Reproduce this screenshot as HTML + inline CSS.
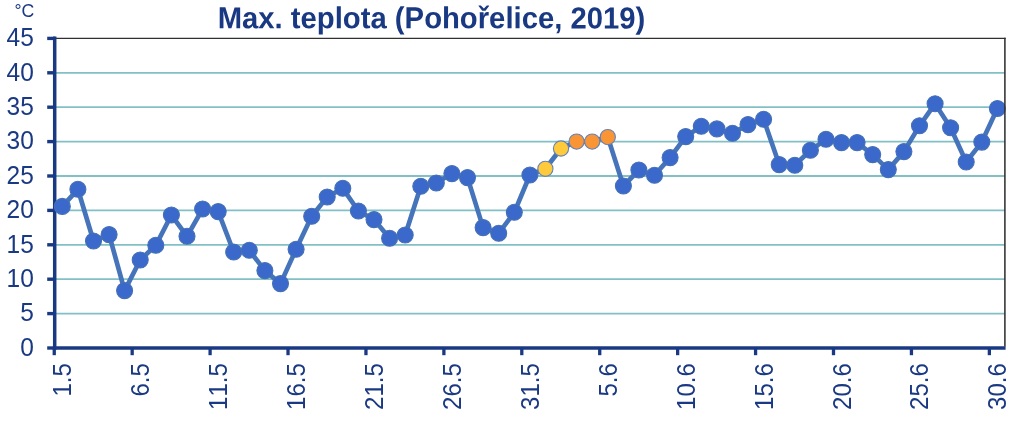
<!DOCTYPE html>
<html lang="cs"><head><meta charset="utf-8"><title>Max. teplota (Pohořelice, 2019)</title>
<style>html,body{margin:0;padding:0;background:#fff;}body{width:1024px;height:422px;overflow:hidden;}svg{display:block;}text{font-kerning:none;font-family:"Liberation Sans",sans-serif;fill:#1a3983;}</style></head><body>
<svg width="1024" height="422" viewBox="0 0 1024 422">
<rect width="1024" height="422" fill="#ffffff"/>
<line x1="56" x2="1005" y1="313.60" y2="313.60" stroke="#82c0c5" stroke-width="1.8"/>
<line x1="56" x2="1005" y1="279.20" y2="279.20" stroke="#82c0c5" stroke-width="1.8"/>
<line x1="56" x2="1005" y1="244.80" y2="244.80" stroke="#82c0c5" stroke-width="1.8"/>
<line x1="56" x2="1005" y1="210.40" y2="210.40" stroke="#82c0c5" stroke-width="1.8"/>
<line x1="56" x2="1005" y1="176.00" y2="176.00" stroke="#82c0c5" stroke-width="1.8"/>
<line x1="56" x2="1005" y1="141.60" y2="141.60" stroke="#82c0c5" stroke-width="1.8"/>
<line x1="56" x2="1005" y1="107.20" y2="107.20" stroke="#82c0c5" stroke-width="1.8"/>
<line x1="56" x2="1005" y1="72.80" y2="72.80" stroke="#82c0c5" stroke-width="1.8"/>
<line x1="54" x2="1005.7" y1="38.3" y2="38.3" stroke="#303030" stroke-width="1.35"/>
<line x1="47.2" x2="55" y1="348.00" y2="348.00" stroke="#1a3983" stroke-width="3.4"/>
<line x1="47.2" x2="55" y1="313.60" y2="313.60" stroke="#1a3983" stroke-width="3.4"/>
<line x1="47.2" x2="55" y1="279.20" y2="279.20" stroke="#1a3983" stroke-width="3.4"/>
<line x1="47.2" x2="55" y1="244.80" y2="244.80" stroke="#1a3983" stroke-width="3.4"/>
<line x1="47.2" x2="55" y1="210.40" y2="210.40" stroke="#1a3983" stroke-width="3.4"/>
<line x1="47.2" x2="55" y1="176.00" y2="176.00" stroke="#1a3983" stroke-width="3.4"/>
<line x1="47.2" x2="55" y1="141.60" y2="141.60" stroke="#1a3983" stroke-width="3.4"/>
<line x1="47.2" x2="55" y1="107.20" y2="107.20" stroke="#1a3983" stroke-width="3.4"/>
<line x1="47.2" x2="55" y1="72.80" y2="72.80" stroke="#1a3983" stroke-width="3.4"/>
<line x1="47.2" x2="55" y1="38.40" y2="38.40" stroke="#1a3983" stroke-width="3.4"/>
<line x1="54.25" x2="54.25" y1="348" y2="355.2" stroke="#1a3983" stroke-width="3.3"/>
<line x1="132.18" x2="132.18" y1="348" y2="355.2" stroke="#1a3983" stroke-width="3.3"/>
<line x1="210.10" x2="210.10" y1="348" y2="355.2" stroke="#1a3983" stroke-width="3.3"/>
<line x1="288.02" x2="288.02" y1="348" y2="355.2" stroke="#1a3983" stroke-width="3.3"/>
<line x1="365.95" x2="365.95" y1="348" y2="355.2" stroke="#1a3983" stroke-width="3.3"/>
<line x1="443.88" x2="443.88" y1="348" y2="355.2" stroke="#1a3983" stroke-width="3.3"/>
<line x1="521.80" x2="521.80" y1="348" y2="355.2" stroke="#1a3983" stroke-width="3.3"/>
<line x1="599.73" x2="599.73" y1="348" y2="355.2" stroke="#1a3983" stroke-width="3.3"/>
<line x1="677.65" x2="677.65" y1="348" y2="355.2" stroke="#1a3983" stroke-width="3.3"/>
<line x1="755.58" x2="755.58" y1="348" y2="355.2" stroke="#1a3983" stroke-width="3.3"/>
<line x1="833.50" x2="833.50" y1="348" y2="355.2" stroke="#1a3983" stroke-width="3.3"/>
<line x1="911.43" x2="911.43" y1="348" y2="355.2" stroke="#1a3983" stroke-width="3.3"/>
<line x1="989.35" x2="989.35" y1="348" y2="355.2" stroke="#1a3983" stroke-width="3.3"/>
<line x1="54.7" x2="54.7" y1="36.4" y2="349.7" stroke="#1a3983" stroke-width="3.5"/>
<line x1="52.9" x2="1005.6" y1="348" y2="348" stroke="#1a3983" stroke-width="3.6"/>
<clipPath id="pc"><rect x="40" y="30" width="965.8" height="330"/></clipPath><g clip-path="url(#pc)">
<polyline points="62.3,206.4 77.9,189.3 93.5,241.0 109.1,234.6 124.6,290.6 140.2,260.0 155.8,245.3 171.4,215.0 187.0,236.3 202.6,209.0 218.2,211.6 233.7,252.0 249.3,250.3 264.9,270.6 280.5,283.6 296.1,249.3 311.7,216.3 327.2,197.0 342.8,188.3 358.4,211.0 374.0,219.6 389.6,238.3 405.2,235.0 420.8,186.3 436.3,183.0 451.9,173.6 467.5,177.6 483.1,227.6 498.7,233.3 514.3,212.3 529.9,175.0 545.4,168.8 561.0,148.5 576.6,141.6 592.2,141.6 607.8,137.1 623.4,186.0 638.9,170.0 654.5,175.3 670.1,157.6 685.7,136.6 701.3,126.3 716.9,128.9 732.5,133.3 748.0,124.6 763.6,119.3 779.2,164.6 794.8,165.3 810.4,150.3 826.0,139.3 841.5,142.6 857.1,142.6 872.7,154.6 888.3,169.6 903.9,151.6 919.5,125.8 935.1,103.7 950.6,127.8 966.2,162.0 981.8,142.1 997.4,108.5" fill="none" stroke="#4674ba" stroke-width="4.7" stroke-linejoin="round" stroke-linecap="round"/>
<circle cx="62.3" cy="206.4" r="8" fill="#3b69cb" stroke="#4470b6" stroke-width="1.1"/>
<circle cx="77.9" cy="189.3" r="8" fill="#3b69cb" stroke="#4470b6" stroke-width="1.1"/>
<circle cx="93.5" cy="241.0" r="8" fill="#3b69cb" stroke="#4470b6" stroke-width="1.1"/>
<circle cx="109.1" cy="234.6" r="8" fill="#3b69cb" stroke="#4470b6" stroke-width="1.1"/>
<circle cx="124.6" cy="290.6" r="8" fill="#3b69cb" stroke="#4470b6" stroke-width="1.1"/>
<circle cx="140.2" cy="260.0" r="8" fill="#3b69cb" stroke="#4470b6" stroke-width="1.1"/>
<circle cx="155.8" cy="245.3" r="8" fill="#3b69cb" stroke="#4470b6" stroke-width="1.1"/>
<circle cx="171.4" cy="215.0" r="8" fill="#3b69cb" stroke="#4470b6" stroke-width="1.1"/>
<circle cx="187.0" cy="236.3" r="8" fill="#3b69cb" stroke="#4470b6" stroke-width="1.1"/>
<circle cx="202.6" cy="209.0" r="8" fill="#3b69cb" stroke="#4470b6" stroke-width="1.1"/>
<circle cx="218.2" cy="211.6" r="8" fill="#3b69cb" stroke="#4470b6" stroke-width="1.1"/>
<circle cx="233.7" cy="252.0" r="8" fill="#3b69cb" stroke="#4470b6" stroke-width="1.1"/>
<circle cx="249.3" cy="250.3" r="8" fill="#3b69cb" stroke="#4470b6" stroke-width="1.1"/>
<circle cx="264.9" cy="270.6" r="8" fill="#3b69cb" stroke="#4470b6" stroke-width="1.1"/>
<circle cx="280.5" cy="283.6" r="8" fill="#3b69cb" stroke="#4470b6" stroke-width="1.1"/>
<circle cx="296.1" cy="249.3" r="8" fill="#3b69cb" stroke="#4470b6" stroke-width="1.1"/>
<circle cx="311.7" cy="216.3" r="8" fill="#3b69cb" stroke="#4470b6" stroke-width="1.1"/>
<circle cx="327.2" cy="197.0" r="8" fill="#3b69cb" stroke="#4470b6" stroke-width="1.1"/>
<circle cx="342.8" cy="188.3" r="8" fill="#3b69cb" stroke="#4470b6" stroke-width="1.1"/>
<circle cx="358.4" cy="211.0" r="8" fill="#3b69cb" stroke="#4470b6" stroke-width="1.1"/>
<circle cx="374.0" cy="219.6" r="8" fill="#3b69cb" stroke="#4470b6" stroke-width="1.1"/>
<circle cx="389.6" cy="238.3" r="8" fill="#3b69cb" stroke="#4470b6" stroke-width="1.1"/>
<circle cx="405.2" cy="235.0" r="8" fill="#3b69cb" stroke="#4470b6" stroke-width="1.1"/>
<circle cx="420.8" cy="186.3" r="8" fill="#3b69cb" stroke="#4470b6" stroke-width="1.1"/>
<circle cx="436.3" cy="183.0" r="8" fill="#3b69cb" stroke="#4470b6" stroke-width="1.1"/>
<circle cx="451.9" cy="173.6" r="8" fill="#3b69cb" stroke="#4470b6" stroke-width="1.1"/>
<circle cx="467.5" cy="177.6" r="8" fill="#3b69cb" stroke="#4470b6" stroke-width="1.1"/>
<circle cx="483.1" cy="227.6" r="8" fill="#3b69cb" stroke="#4470b6" stroke-width="1.1"/>
<circle cx="498.7" cy="233.3" r="8" fill="#3b69cb" stroke="#4470b6" stroke-width="1.1"/>
<circle cx="514.3" cy="212.3" r="8" fill="#3b69cb" stroke="#4470b6" stroke-width="1.1"/>
<circle cx="529.9" cy="175.0" r="8" fill="#3b69cb" stroke="#4470b6" stroke-width="1.1"/>
<circle cx="545.4" cy="168.8" r="7.6" fill="#ffc93c" stroke="#6483b4" stroke-width="1.1"/>
<circle cx="561.0" cy="148.5" r="7.6" fill="#ffc93c" stroke="#6483b4" stroke-width="1.1"/>
<circle cx="576.6" cy="141.6" r="7.6" fill="#f99535" stroke="#6483b4" stroke-width="1.1"/>
<circle cx="592.2" cy="141.6" r="7.6" fill="#f99535" stroke="#6483b4" stroke-width="1.1"/>
<circle cx="607.8" cy="137.1" r="7.6" fill="#f99535" stroke="#6483b4" stroke-width="1.1"/>
<circle cx="623.4" cy="186.0" r="8" fill="#3b69cb" stroke="#4470b6" stroke-width="1.1"/>
<circle cx="638.9" cy="170.0" r="8" fill="#3b69cb" stroke="#4470b6" stroke-width="1.1"/>
<circle cx="654.5" cy="175.3" r="8" fill="#3b69cb" stroke="#4470b6" stroke-width="1.1"/>
<circle cx="670.1" cy="157.6" r="8" fill="#3b69cb" stroke="#4470b6" stroke-width="1.1"/>
<circle cx="685.7" cy="136.6" r="8" fill="#3b69cb" stroke="#4470b6" stroke-width="1.1"/>
<circle cx="701.3" cy="126.3" r="8" fill="#3b69cb" stroke="#4470b6" stroke-width="1.1"/>
<circle cx="716.9" cy="128.9" r="8" fill="#3b69cb" stroke="#4470b6" stroke-width="1.1"/>
<circle cx="732.5" cy="133.3" r="8" fill="#3b69cb" stroke="#4470b6" stroke-width="1.1"/>
<circle cx="748.0" cy="124.6" r="8" fill="#3b69cb" stroke="#4470b6" stroke-width="1.1"/>
<circle cx="763.6" cy="119.3" r="8" fill="#3b69cb" stroke="#4470b6" stroke-width="1.1"/>
<circle cx="779.2" cy="164.6" r="8" fill="#3b69cb" stroke="#4470b6" stroke-width="1.1"/>
<circle cx="794.8" cy="165.3" r="8" fill="#3b69cb" stroke="#4470b6" stroke-width="1.1"/>
<circle cx="810.4" cy="150.3" r="8" fill="#3b69cb" stroke="#4470b6" stroke-width="1.1"/>
<circle cx="826.0" cy="139.3" r="8" fill="#3b69cb" stroke="#4470b6" stroke-width="1.1"/>
<circle cx="841.5" cy="142.6" r="8" fill="#3b69cb" stroke="#4470b6" stroke-width="1.1"/>
<circle cx="857.1" cy="142.6" r="8" fill="#3b69cb" stroke="#4470b6" stroke-width="1.1"/>
<circle cx="872.7" cy="154.6" r="8" fill="#3b69cb" stroke="#4470b6" stroke-width="1.1"/>
<circle cx="888.3" cy="169.6" r="8" fill="#3b69cb" stroke="#4470b6" stroke-width="1.1"/>
<circle cx="903.9" cy="151.6" r="8" fill="#3b69cb" stroke="#4470b6" stroke-width="1.1"/>
<circle cx="919.5" cy="125.8" r="8" fill="#3b69cb" stroke="#4470b6" stroke-width="1.1"/>
<circle cx="935.1" cy="103.7" r="8" fill="#3b69cb" stroke="#4470b6" stroke-width="1.1"/>
<circle cx="950.6" cy="127.8" r="8" fill="#3b69cb" stroke="#4470b6" stroke-width="1.1"/>
<circle cx="966.2" cy="162.0" r="8" fill="#3b69cb" stroke="#4470b6" stroke-width="1.1"/>
<circle cx="981.8" cy="142.1" r="8" fill="#3b69cb" stroke="#4470b6" stroke-width="1.1"/>
<circle cx="997.4" cy="108.5" r="8" fill="#3b69cb" stroke="#4470b6" stroke-width="1.1"/>
</g>
<line x1="1004.9" x2="1004.9" y1="37.65" y2="346.6" stroke="#303030" stroke-width="1.55"/>
<text transform="translate(217.7,28.2) rotate(0.03) scale(0.9625,1)" font-size="30.4" font-weight="bold">Max. teplota (Pohořelice, 2019)</text>
<text x="14.4" y="16.7" font-size="17.7">°C</text>
<text transform="translate(33.8,355.80) scale(0.965,1)" font-size="25.4" text-anchor="end">0</text>
<text transform="translate(33.8,321.40) scale(0.965,1)" font-size="25.4" text-anchor="end">5</text>
<text transform="translate(33.8,287.00) scale(0.965,1)" font-size="25.4" text-anchor="end">10</text>
<text transform="translate(33.8,252.60) scale(0.965,1)" font-size="25.4" text-anchor="end">15</text>
<text transform="translate(33.8,218.20) scale(0.965,1)" font-size="25.4" text-anchor="end">20</text>
<text transform="translate(33.8,183.80) scale(0.965,1)" font-size="25.4" text-anchor="end">25</text>
<text transform="translate(33.8,149.40) scale(0.965,1)" font-size="25.4" text-anchor="end">30</text>
<text transform="translate(33.8,115.00) scale(0.965,1)" font-size="25.4" text-anchor="end">35</text>
<text transform="translate(33.8,80.60) scale(0.965,1)" font-size="25.4" text-anchor="end">40</text>
<text transform="translate(33.8,46.20) scale(0.965,1)" font-size="25.4" text-anchor="end">45</text>
<text transform="translate(71.30,363.2) rotate(-90) scale(0.916,1)" font-size="26.2" text-anchor="end">1.5</text>
<text transform="translate(149.23,363.2) rotate(-90) scale(0.916,1)" font-size="26.2" text-anchor="end">6.5</text>
<text transform="translate(227.15,363.2) rotate(-90) scale(0.916,1)" font-size="26.2" text-anchor="end">11.5</text>
<text transform="translate(305.07,363.2) rotate(-90) scale(0.916,1)" font-size="26.2" text-anchor="end">16.5</text>
<text transform="translate(383.00,363.2) rotate(-90) scale(0.916,1)" font-size="26.2" text-anchor="end">21.5</text>
<text transform="translate(460.93,363.2) rotate(-90) scale(0.916,1)" font-size="26.2" text-anchor="end">26.5</text>
<text transform="translate(538.85,363.2) rotate(-90) scale(0.916,1)" font-size="26.2" text-anchor="end">31.5</text>
<text transform="translate(616.77,363.2) rotate(-90) scale(0.916,1)" font-size="26.2" text-anchor="end">5.6</text>
<text transform="translate(694.70,363.2) rotate(-90) scale(0.916,1)" font-size="26.2" text-anchor="end">10.6</text>
<text transform="translate(772.62,363.2) rotate(-90) scale(0.916,1)" font-size="26.2" text-anchor="end">15.6</text>
<text transform="translate(850.55,363.2) rotate(-90) scale(0.916,1)" font-size="26.2" text-anchor="end">20.6</text>
<text transform="translate(928.48,363.2) rotate(-90) scale(0.916,1)" font-size="26.2" text-anchor="end">25.6</text>
<text transform="translate(1006.40,363.2) rotate(-90) scale(0.916,1)" font-size="26.2" text-anchor="end">30.6</text>
</svg></body></html>
